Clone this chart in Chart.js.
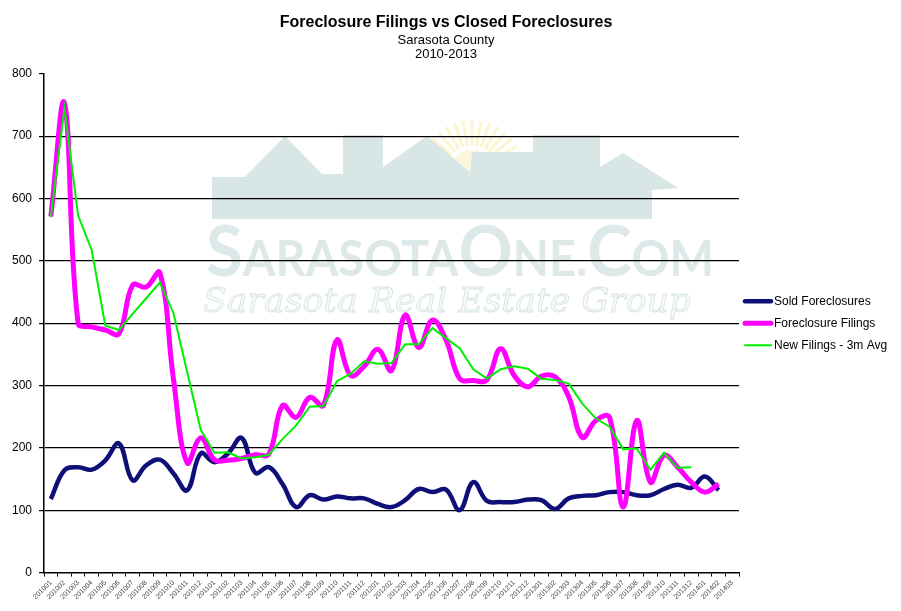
<!DOCTYPE html>
<html>
<head>
<meta charset="utf-8">
<script src="https://cdn.jsdelivr.net/npm/chart.js@4.4.1/dist/chart.umd.min.js"></script>
<style>
  html, body { margin: 0; padding: 0; background: #fff; }
  #wrap { width: 901px; height: 611px; }
</style>
</head>
<body>
<div id="wrap"><canvas id="chart" width="901" height="611"></canvas></div>
<script>
const months = [
    '201001', '201002', '201003', '201004', '201005', '201006', '201007', '201008', '201009', '201010', '201011', '201012',
    '201101', '201102', '201103', '201104', '201105', '201106', '201107', '201108', '201109', '201110', '201111', '201112',
    '201201', '201202', '201203', '201204', '201205', '201206', '201207', '201208', '201209', '201210', '201211', '201212',
    '201301', '201302', '201303', '201304', '201305', '201306', '201307', '201308', '201309', '201310', '201311', '201312',
    '201401', '201402', '201403'
];

const soldForeclosures = [
    118, 164, 169, 165, 180, 207, 148, 172, 181, 159, 132, 191,
    177, 191, 216, 160, 169, 142, 105, 124, 117, 122, 119, 119,
    110, 105, 116, 134, 129, 133, 100, 145, 115, 113, 113, 117,
    116, 102, 119, 123, 124, 129, 129, 124, 124, 134, 141, 136,
    154, 132, null
];

const foreclosureFilings = [
    571, 753, 400, 394, 389, 383, 461, 458, 481, 310, 176, 216,
    181, 180, 183, 189, 190, 268, 249, 281, 268, 373, 316, 331,
    358, 324, 413, 361, 405, 373, 311, 308, 309, 359, 316, 298,
    315, 314, 282, 217, 244, 249, 105, 244, 145, 188, 169, 145,
    129, 142, null
];

const newFilings3mAvg = [
    570, 745, 573, 517, 396, 389, 415, 440, 465, 416, 322, 229,
    192, 193, 183, 185, 189, 214, 236, 266, 267, 307, 319, 339,
    335, 336, 366, 366, 392, 376, 360, 326, 311, 326, 331, 327,
    311, 309, 303, 271, 247, 234, 198, 199, 165, 192, 168, 169,
    null, null, null
];

const FONT = '"Liberation Sans", Arial, sans-serif';

// faint logo behind the plot
const watermark = {
    id: 'watermark',
    beforeDraw(chart) {
        const ctx = chart.ctx;
        ctx.save();
        ctx.fillStyle = '#fff';
        ctx.fillRect(0, 0, chart.width, chart.height);

        // sun rays
        ctx.strokeStyle = '#fcf5d2';
        ctx.lineWidth = 3;
        for (let a = 200; a <= 340; a += 10) {
            const r = a * Math.PI / 180;
            ctx.beginPath();
            ctx.moveTo(472 + Math.cos(r) * 26, 172 + Math.sin(r) * 26);
            ctx.lineTo(472 + Math.cos(r) * 52, 172 + Math.sin(r) * 52);
            ctx.stroke();
        }
        ctx.fillStyle = '#fcf7dc';
        ctx.beginPath();
        ctx.arc(472, 172, 22, Math.PI, 2 * Math.PI);
        ctx.fill();

        // roof line
        const roof = [[212, 177], [245, 177], [285, 136], [322, 174], [343, 174], [343, 135], [383, 135],
            [383, 167], [427, 136], [470, 172], [472, 152], [533, 152], [533, 135], [600, 135], [600, 167],
            [623, 153], [678, 188], [652, 190], [652, 219], [212, 219]];
        ctx.fillStyle = '#d9e6e6';
        ctx.beginPath();
        roof.forEach((p, i) => i ? ctx.lineTo(p[0], p[1]) : ctx.moveTo(p[0], p[1]));
        ctx.closePath();
        ctx.fill();

        // SarasotaOne.Com in small caps
        const parts = [['S', 1], ['ARASOTA', 0], ['O', 1], ['NE.', 0], ['C', 1], ['OM', 0]];
        const big = 'bold 70px Lato, "DejaVu Sans", sans-serif';
        const small = 'bold 49px Lato, "DejaVu Sans", sans-serif';
        let total = 0;
        parts.forEach(p => { ctx.font = p[1] ? big : small; total += ctx.measureText(p[0]).width; });
        ctx.save();
        ctx.translate(206, 276);
        ctx.scale(508 / total, 1);
        ctx.fillStyle = '#dde8e8';
        ctx.textBaseline = 'alphabetic';
        let cx = 0;
        parts.forEach(p => {
            ctx.font = p[1] ? big : small;
            ctx.fillText(p[0], cx, 0);
            cx += ctx.measureText(p[0]).width;
        });
        ctx.restore();

        // script line
        ctx.save();
        ctx.font = 'italic 34px "DejaVu Serif", serif';
        const w = ctx.measureText('Sarasota Real Estate Group').width;
        ctx.translate(203, 312);
        ctx.scale(488 / w, 1);
        ctx.fillStyle = '#f5f9f9';
        ctx.strokeStyle = '#d6e3e3';
        ctx.lineWidth = 0.8;
        ctx.fillText('Sarasota Real Estate Group', 0, 0);
        ctx.strokeText('Sarasota Real Estate Group', 0, 0);
        ctx.restore();

        ctx.restore();
    }
};

// legend on the right, line sample + label
const sideLegend = {
    id: 'sideLegend',
    afterDraw(chart) {
        const ctx = chart.ctx;
        const area = chart.chartArea;
        const mid = (area.top + area.bottom) / 2;
        const x = area.right + 4;
        ctx.save();
        ctx.font = '12px ' + FONT;
        ctx.textBaseline = 'middle';
        ctx.fillStyle = '#000';
        chart.data.datasets.forEach((ds, i) => {
            const y = mid + (i - 1) * 22;
            ctx.strokeStyle = ds.borderColor;
            ctx.lineWidth = ds.borderWidth;
            ctx.lineCap = 'round';
            ctx.beginPath();
            ctx.moveTo(x + 2, y);
            ctx.lineTo(x + 28, y);
            ctx.stroke();
            ctx.fillText(ds.label, x + 31, y + 0.5);
        });
        ctx.restore();
    }
};

new Chart(document.getElementById('chart'), {
    type: 'line',
    data: {
        labels: months,
        datasets: [
            {
                label: 'Sold Foreclosures',
                data: soldForeclosures,
                borderColor: '#0f0f78',
                borderWidth: 4.5,
                tension: 0.4,
                pointRadius: 0,
                yAxisID: 'y',
                order: 2
            },
            {
                label: 'Foreclosure Filings',
                data: foreclosureFilings,
                borderColor: '#ff00ff',
                borderWidth: 5,
                tension: 0.4,
                pointRadius: 0,
                yAxisID: 'y',
                order: 1
            },
            {
                label: 'New Filings - 3m Avg',
                data: newFilings3mAvg,
                borderColor: '#00ee00',
                borderWidth: 2,
                tension: 0,
                pointRadius: 0,
                yAxisID: 'y',
                order: 0
            }
        ]
    },
    options: {
        responsive: false,
        animation: false,
        devicePixelRatio: 1,
        layout: { padding: { left: 5, right: 14, bottom: 8, top: 0 } },
        plugins: {
            legend: { display: false },
            tooltip: { enabled: false },
            title: {
                display: true,
                text: 'Foreclosure Filings vs Closed Foreclosures',
                color: '#000',
                font: { family: FONT, size: 16, weight: 'bold', lineHeight: 1.2 },
                padding: { top: 13, bottom: 0 }
            },
            subtitle: {
                display: true,
                text: ['Sarasota County', '2010-2013'],
                color: '#000',
                font: { family: FONT, size: 13, lineHeight: 1.1 },
                padding: { top: 1, bottom: 12 }
            }
        },
        scales: {
            x: {
                offset: true,
                border: { display: true, color: '#000', width: 1.5 },
                grid: { display: true, drawOnChartArea: false, offset: true, tickLength: 4, color: '#000' },
                ticks: {
                    autoSkip: false,
                    minRotation: 45,
                    maxRotation: 45,
                    padding: 2,
                    color: '#444',
                    font: { family: FONT, size: 7 }
                }
            },
            y: {
                min: 0,
                max: 800,
                border: { display: true, color: '#000', width: 1.5 },
                grid: {
                    color: ctx => (ctx.tick && (ctx.tick.value === 0 || ctx.tick.value === 800)) ? 'rgba(0,0,0,0)' : '#000',
                    tickColor: '#000',
                    tickLength: 5,
                    lineWidth: 1.2
                },
                ticks: {
                    stepSize: 100,
                    padding: 7,
                    color: '#000',
                    font: { family: FONT, size: 12 }
                }
            },
            // empty right-hand axis that only reserves room for the legend
            legendSpace: {
                type: 'linear',
                position: 'right',
                border: { display: false },
                grid: { display: false, drawOnChartArea: false },
                ticks: { display: false },
                afterFit: scale => { scale.width = 148; }
            }
        }
    },
    plugins: [watermark, sideLegend]
});
</script>
</body>
</html>
